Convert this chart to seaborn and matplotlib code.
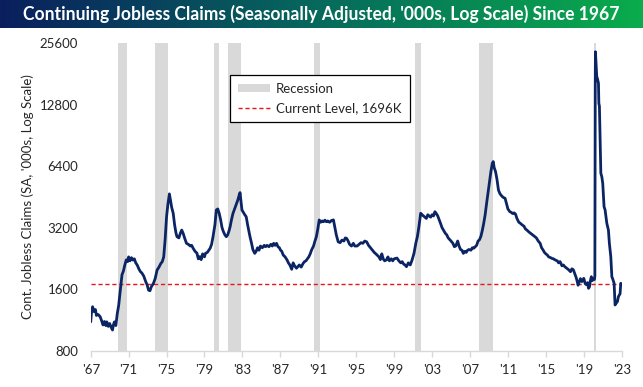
import numpy as np
import matplotlib
matplotlib.use("Agg")
import matplotlib.pyplot as plt
import seaborn as sns
from matplotlib.patches import Patch
from matplotlib.lines import Line2D
from matplotlib.colors import LinearSegmentedColormap

# ---------------- data (decimal year, continuing claims in '000s) ----------------
years = [
    1967.0, 1967.1, 1967.2, 1967.35, 1967.5, 1967.6, 1967.8, 1968.0, 1968.15, 1968.3,
    1968.45, 1968.6, 1968.7, 1968.85, 1969.0, 1969.15, 1969.3, 1969.4, 1969.5, 1969.65,
    1969.8, 1969.95, 1970.05, 1970.2, 1970.3, 1970.45, 1970.6, 1970.75, 1970.9, 1971.0,
    1971.15, 1971.3, 1971.45, 1971.6, 1971.75, 1971.9, 1972.1, 1972.25, 1972.4, 1972.6,
    1972.8, 1972.95, 1973.1, 1973.25, 1973.4, 1973.6, 1973.8, 1974.0, 1974.2, 1974.4,
    1974.55, 1974.7, 1974.85, 1975.0, 1975.15, 1975.3, 1975.4, 1975.55, 1975.7, 1975.85,
    1976.0, 1976.1, 1976.3, 1976.45, 1976.6, 1976.75, 1976.9, 1977.1, 1977.3, 1977.5,
    1977.65, 1977.8, 1978.0, 1978.2, 1978.35, 1978.5, 1978.65, 1978.8, 1979.0, 1979.1,
    1979.3, 1979.45, 1979.6, 1979.75, 1979.9, 1980.1, 1980.25, 1980.4, 1980.55, 1980.7,
    1980.85, 1981.0, 1981.15, 1981.3, 1981.45, 1981.6, 1981.7, 1981.85, 1982.0, 1982.2,
    1982.35, 1982.5, 1982.65, 1982.75, 1982.85, 1982.95, 1983.1, 1983.25, 1983.4, 1983.55,
    1983.7, 1983.8, 1983.95, 1984.1, 1984.3, 1984.45, 1984.6, 1984.75, 1984.9, 1985.1,
    1985.3, 1985.45, 1985.6, 1985.8, 1986.0, 1986.15, 1986.3, 1986.45, 1986.6, 1986.75,
    1986.9, 1987.0, 1987.15, 1987.3, 1987.5, 1987.7, 1987.85, 1988.0, 1988.2, 1988.35,
    1988.5, 1988.7, 1988.85, 1989.0, 1989.2, 1989.4, 1989.55, 1989.7, 1989.85, 1990.0,
    1990.15, 1990.3, 1990.5, 1990.65, 1990.8, 1990.95, 1991.1, 1991.25, 1991.4, 1991.55,
    1991.7, 1991.85, 1992.0, 1992.2, 1992.4, 1992.6, 1992.75, 1992.9, 1993.1, 1993.3,
    1993.5, 1993.7, 1993.85, 1994.0, 1994.15, 1994.3, 1994.5, 1994.7, 1994.85, 1995.1,
    1995.3, 1995.5, 1995.7, 1995.9, 1996.1, 1996.3, 1996.5, 1996.7, 1996.9, 1997.2,
    1997.4, 1997.55, 1997.7, 1997.85, 1998.0, 1998.2, 1998.35, 1998.5, 1998.7, 1998.85,
    1999.0, 1999.3, 1999.5, 1999.7, 1999.85, 2000.0, 2000.15, 2000.3, 2000.5, 2000.7,
    2000.9, 2001.1, 2001.3, 2001.45, 2001.6, 2001.8, 2001.95, 2002.1, 2002.25, 2002.4,
    2002.55, 2002.7, 2002.85, 2003.0, 2003.15, 2003.3, 2003.45, 2003.6, 2003.75, 2003.9,
    2004.05, 2004.2, 2004.4, 2004.55, 2004.7, 2004.85, 2005.0, 2005.2, 2005.35, 2005.5,
    2005.7, 2005.85, 2006.0, 2006.15, 2006.3, 2006.45, 2006.6, 2006.75, 2006.9, 2007.1,
    2007.25, 2007.4, 2007.55, 2007.7, 2007.85, 2008.0, 2008.15, 2008.3, 2008.45, 2008.6,
    2008.75, 2008.9, 2009.05, 2009.2, 2009.35, 2009.45, 2009.55, 2009.7, 2009.85, 2010.0,
    2010.15, 2010.3, 2010.5, 2010.7, 2010.85, 2011.0, 2011.2, 2011.35, 2011.5, 2011.65,
    2011.8, 2011.95, 2012.15, 2012.3, 2012.5, 2012.7, 2012.85, 2013.0, 2013.2, 2013.4,
    2013.6, 2013.8, 2014.0, 2014.2, 2014.4, 2014.55, 2014.7, 2014.85, 2015.0, 2015.15,
    2015.3, 2015.5, 2015.65, 2015.8, 2016.0, 2016.2, 2016.35, 2016.5, 2016.7, 2016.85,
    2017.0, 2017.2, 2017.4, 2017.6, 2017.75, 2017.9, 2018.05, 2018.2, 2018.3, 2018.4,
    2018.5, 2018.65, 2018.8, 2019.0, 2019.15, 2019.3, 2019.4, 2019.5, 2019.6, 2019.7,
    2019.8, 2019.9, 2020.0, 2020.12, 2020.17, 2020.19, 2020.21, 2020.23, 2020.3, 2020.37,
    2020.44, 2020.55, 2020.59, 2020.65, 2020.72, 2020.8, 2020.9, 2021.0, 2021.14, 2021.25,
    2021.43, 2021.6, 2021.7, 2021.85, 2021.96, 2022.06, 2022.2, 2022.3, 2022.4, 2022.55,
    2022.65, 2022.83, 2022.9, 2023.0,
]
claims = [
    1105, 1250, 1311, 1240, 1270, 1188, 1200, 1170, 1120, 1067,
    1110, 1060, 1105, 1050, 1085, 1040, 1008, 1070, 1105, 1060,
    1210, 1330, 1467, 1700, 1880, 1960, 2100, 2225, 2180, 2300,
    2200, 2280, 2220, 2250, 2150, 2100, 2000, 1946, 1917, 1850,
    1740, 1680, 1581, 1570, 1643, 1700, 1800, 1982, 2050, 2137,
    2180, 2300, 2800, 3617, 4200, 4682, 4400, 4000, 3764, 3300,
    3000, 2888, 2850, 3000, 3113, 3000, 2850, 2680, 2650, 2600,
    2620, 2537, 2450, 2400, 2250, 2307, 2230, 2380, 2300, 2393,
    2420, 2480, 2537, 2650, 2888, 3300, 3904, 3950, 3764, 3500,
    3200, 3054, 2950, 2888, 2950, 3100, 3229, 3500, 3750, 3976,
    4150, 4350, 4600, 4750, 4300, 3904, 3800, 3700, 3617, 3300,
    3050, 2888, 2700, 2500, 2393, 2450, 2550, 2480, 2600, 2550,
    2620, 2580, 2620, 2580, 2650, 2600, 2680, 2620, 2680, 2580,
    2550, 2490, 2450, 2350, 2300, 2225, 2150, 2100, 2000, 2150,
    2080, 2024, 2060, 2100, 2050, 2137, 2180, 2200, 2250, 2300,
    2380, 2490, 2600, 2750, 2888, 3150, 3490, 3400, 3450, 3420,
    3480, 3420, 3450, 3400, 3470, 3490, 3200, 2950, 2727, 2700,
    2780, 2750, 2850, 2832, 2750, 2650, 2600, 2680, 2600, 2600,
    2650, 2700, 2680, 2750, 2727, 2620, 2550, 2480, 2420, 2350,
    2300, 2230, 2380, 2250, 2200, 2225, 2300, 2200, 2250, 2200,
    2250, 2270, 2200, 2150, 2180, 2120, 2100, 2059, 2150, 2100,
    2225, 2400, 2700, 2888, 3200, 3764, 3700, 3650, 3600, 3550,
    3700, 3650, 3600, 3700, 3650, 3830, 3750, 3650, 3500, 3350,
    3200, 3113, 3000, 2950, 2850, 2800, 2750, 2680, 2580, 2600,
    2750, 2600, 2500, 2480, 2393, 2450, 2420, 2480, 2500, 2480,
    2550, 2537, 2580, 2620, 2750, 2790, 2900, 3100, 3363, 3700,
    4200, 4720, 5300, 6000, 6600, 6740, 6300, 6010, 5500, 4894,
    4700, 4600, 4500, 4456, 4200, 3950, 3830, 3800, 3750, 3780,
    3728, 3550, 3400, 3363, 3300, 3250, 3150, 3113, 3050, 3000,
    2950, 2900, 2850, 2750, 2680, 2550, 2490, 2420, 2380, 2350,
    2300, 2280, 2260, 2250, 2220, 2200, 2150, 2180, 2080, 2100,
    2059, 2024, 1990, 1946, 2010, 1990, 1900, 1820, 1750, 1670,
    1720, 1800, 1740, 1806, 1700, 1680, 1720, 1613, 1640, 1760,
    1840, 1760, 1806, 1780, 1850, 7400, 15800, 23270, 20400, 17540,
    17200, 16300, 13000, 12600, 8600, 5910, 5690, 5280, 4050, 3904,
    3363, 3113, 2680, 2307, 1840, 1790, 1707, 1337, 1360, 1390,
    1467, 1520, 1707, 1696,
]
rec_start = [1969.92, 1973.83, 1980.0, 1981.5, 1990.5, 2001.17, 2007.92, 2020.08]
rec_end = [1970.88, 1975.17, 1980.55, 1982.88, 1991.17, 2001.88, 2009.45, 2020.3]
current_level = 1696
y_ticks = [800, 1600, 3200, 6400, 12800, 25600]
x_ticks = list(range(1967, 2024, 4))
x_labels = ["'" + str(y)[2:] for y in x_ticks]

# ---------------- style ----------------
sns.set_theme(style="white")
plt.rcParams["font.family"] = ["Lato", "DejaVu Sans"]

W, H = 643, 387
fig = plt.figure(figsize=(W / 100, H / 100), dpi=100)
fig.patch.set_facecolor("white")

# title bar with gradient
tax = fig.add_axes([0, 1 - 28 / H, 1, 28 / H])
cmap = LinearSegmentedColormap.from_list("tb", ["#0a1f5e", "#066a5c", "#0aac4c"])
tax.imshow(np.linspace(0, 1, 256)[None, :], aspect="auto", cmap=cmap, extent=[0, 1, 0, 1])
tax.set_axis_off()
title = fig.text(321 / W, 1 - 14 / H,
                 "Continuing Jobless Claims (Seasonally Adjusted, '000s, Log Scale) Since 1967",
                 color="white", fontweight="bold", fontsize=14, ha="center", va="center")
fig.canvas.draw()
tw = title.get_window_extent().width
title.set_fontsize(14 * 600 / tw)

# main axes
ax = fig.add_axes([90.7 / W, 1 - 350.5 / H, (621.7 - 90.7) / W, (350.5 - 43.3) / H])
for s, e in zip(rec_start, rec_end):
    ax.axvspan(s, e, color="#d9d9d9", lw=0, zorder=0)

ax.axhline(current_level, color="#e8161b", lw=1.0, ls=(0, (3, 2)), zorder=2)
sns.lineplot(x=years, y=claims, color="#0b2463", lw=2.0, ax=ax, zorder=3, estimator=None)

ax.set_yscale("log", base=2)
ax.set_ylim(800, 25600)
ax.set_xlim(1967, 2023)
ax.set_yticks(y_ticks)
ax.set_yticklabels([str(v) for v in y_ticks])
ax.minorticks_off()
ax.set_xticks(x_ticks)
ax.set_xticklabels(x_labels)

for side in ["top", "right", "left"]:
    ax.spines[side].set_visible(False)
ax.spines["bottom"].set_color("#d9d9d9")
ax.spines["bottom"].set_linewidth(1.0)
ax.tick_params(axis="y", length=0, pad=9, labelsize=9.5, labelcolor="#262626")
ax.tick_params(axis="x", length=4, width=1.0, color="#d9d9d9", direction="out",
               pad=6, labelsize=9.5, labelcolor="#262626", bottom=True)
ax.set_xlabel("")
ax.set_ylabel("")
ax.grid(False)

fig.text(28 / W, 1 - 197 / H, "Cont. Jobless Claims (SA, '000s, Log Scale)",
         rotation=90, ha="center", va="center", fontsize=9.5, color="#262626")

handles = [Patch(facecolor="#d9d9d9", edgecolor="none", label="Recession"),
           Line2D([0], [0], color="#e8161b", lw=1.0, ls=(0, (3, 2)),
                  label="Current Level, " + str(current_level) + "K")]
leg = ax.legend(handles=handles, loc="upper left",
                bbox_to_anchor=(230 / W, 1 - 75 / H), bbox_transform=fig.transFigure,
                frameon=True, fancybox=False, framealpha=1, edgecolor="black",
                fontsize=9.5, handlelength=2.4, handleheight=0.6, borderpad=0.6,
                labelspacing=0.55, handletextpad=0.5, borderaxespad=0)
leg.get_frame().set_linewidth(0.9)
for t in leg.get_texts():
    t.set_color("#262626")

fig.savefig("out.png", dpi=100)
